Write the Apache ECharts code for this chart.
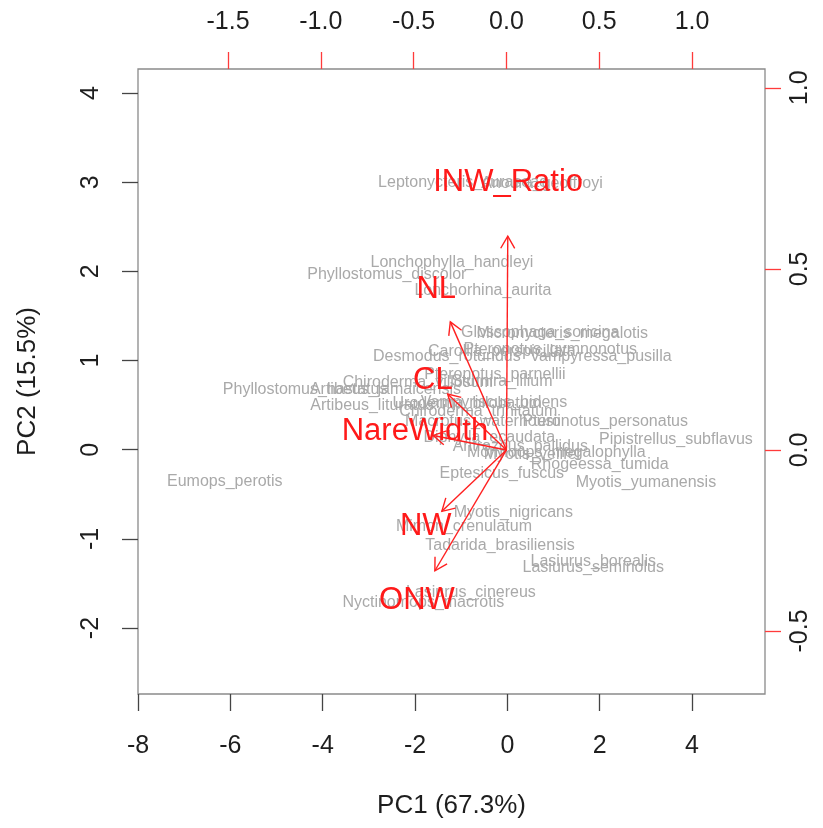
<!DOCTYPE html>
<html>
<head>
<meta charset="utf-8">
<script src="https://cdn.jsdelivr.net/npm/echarts@6/dist/echarts.min.js"></script>
<style>html,body{margin:0;padding:0;background:#fff}#c{width:823px;height:828px}</style>
</head>
<body>
<div id="c"></div>
<script>
// Species (observations) scores on PC1 / PC2
const speciesNames = [
  "Leptonycteris_curasoae","Anoura_geoffroyi","Lonchophylla_handleyi","Phyllostomus_discolor",
  "Lonchorhina_aurita","Glossophaga_soricina","Micronycteris_megalotis","Carollia_perspicillata",
  "Pteronotus_gymnonotus","Desmodus_rotundus","Vampyressa_pusilla","Pteronotus_parnellii",
  "Sturnira_lilium","Chiroderma_villosum","Phyllostomus_hastatus","Artibeus_jamaicensis",
  "Artibeus_lituratus","Uroderma_bilobatum","Vampyriscus_bidens","Chiroderma_trinitatum",
  "Macrotus_waterhousii","Pteronotus_personatus","Pipistrellus_subflavus","Diphylla_ecaudata",
  "Antrozous_pallidus","Mormoops_megalophylla","Myotis_velifer","Rhogeessa_tumida",
  "Eptesicus_fuscus","Myotis_yumanensis","Eumops_perotis","Myotis_nigricans",
  "Mimon_crenulatum","Tadarida_brasiliensis","Lasiurus_borealis","Lasiurus_seminolus",
  "Lasiurus_cinereus","Nyctinomops_macrotis"
];
const speciesPC1 = [
  -0.96, 0.75, -1.20, -2.61,
  -0.53, 0.71, 1.19, -0.12,
  0.93, -1.31, 2.02, -0.27,
  -0.12, -1.94, -4.38, -2.64,
  -2.93, -0.87, -0.29, -0.63,
  -0.53, 2.12, 3.65, -0.39,
  0.28, 1.06, 0.55, 2.00,
  -0.12, 3.00, -6.12, 0.13,
  -0.94, -0.16, 1.86, 1.86,
  -0.79, -1.82
];
const speciesPC2 = [
  3.00, 2.98, 2.10, 1.96,
  1.78, 1.31, 1.30, 1.10,
  1.12, 1.04, 1.04, 0.84,
  0.76, 0.75, 0.67, 0.67,
  0.49, 0.52, 0.53, 0.43,
  0.31, 0.31, 0.11, 0.14,
  0.03, -0.03, -0.05, -0.17,
  -0.27, -0.37, -0.36, -0.71,
  -0.86, -1.08, -1.25, -1.32,
  -1.60, -1.71
];
// Variable loadings (label positions, secondary axes)
const varNames = ["INW_Ratio","NL","CL","NareWidth","NW","ONW"];
const varLoad1 = [0.009, -0.378, -0.396, -0.493, -0.435, -0.482];
const varLoad2 = [0.738, 0.442, 0.193, 0.050, -0.212, -0.417];
// Tick values
const pc1Ticks = [-8,-6,-4,-2,0,2,4];
const pc2Ticks = [-2,-1,0,1,2,3,4];
const load1Ticks = [-1.5,-1.0,-0.5,0.0,0.5,1.0];
const load2Ticks = [-0.5,0.0,0.5,1.0];

const FONT = '"Liberation Sans", Arial, Helvetica, sans-serif';
const chart = echarts.init(document.getElementById('c'));

const speciesData = speciesNames.map((n,i)=>[speciesPC1[i], speciesPC2[i]]);
const varData = varNames.map((n,i)=>[varLoad1[i], varLoad2[i]]);

chart.setOption({
  animation:false,
  backgroundColor:'#fff',
  grid:{left:138, right:58, top:69, bottom:134, show:true, borderColor:'#8a8a8a', borderWidth:1.3, containLabel:false},
  xAxis:[
    {type:'value', position:'bottom', min:-8, max:5.58, splitLine:{show:false},
     axisLine:{show:false, onZero:false},
     axisTick:{show:true, inside:false, length:17, customValues:pc1Ticks, lineStyle:{color:'#444', width:1.3}},
     axisLabel:{customValues:pc1Ticks, fontSize:25, fontFamily:FONT, color:'#1e1e1e', margin:40},
     name:'PC1 (67.3%)', nameLocation:'middle', nameGap:99,
     nameTextStyle:{fontSize:26, fontFamily:FONT, color:'#1e1e1e'}},
    {type:'value', position:'top', min:-1.985, max:1.393, splitLine:{show:false},
     axisLine:{show:false, onZero:false},
     axisTick:{show:true, inside:false, length:17, customValues:load1Ticks, lineStyle:{color:'#ff3b3b', width:1.3}},
     axisLabel:{customValues:load1Ticks, fontSize:25, fontFamily:FONT, color:'#1e1e1e', margin:34,
       formatter:v=>v.toFixed(1)}}
  ],
  yAxis:[
    {type:'value', position:'left', min:-2.74, max:4.27, splitLine:{show:false},
     axisLine:{show:false, onZero:false},
     axisTick:{show:true, inside:false, length:16, customValues:pc2Ticks, lineStyle:{color:'#444', width:1.3}},
     axisLabel:{customValues:pc2Ticks, fontSize:25, fontFamily:FONT, color:'#1e1e1e', margin:34, rotate:90},
     name:'PC2 (15.5%)', nameLocation:'middle', nameGap:97,
     nameTextStyle:{fontSize:26, fontFamily:FONT, color:'#1e1e1e'}},
    {type:'value', position:'right', min:-0.674, max:1.052, splitLine:{show:false},
     axisLine:{show:false, onZero:false},
     axisTick:{show:true, inside:false, length:16, customValues:load2Ticks, lineStyle:{color:'#ff3b3b', width:1.3}},
     axisLabel:{customValues:load2Ticks, fontSize:25, fontFamily:FONT, color:'#1e1e1e', margin:23, rotate:90,
       formatter:v=>v.toFixed(1)}}
  ],
  series:[
    {type:'custom', xAxisIndex:0, yAxisIndex:0, data:speciesData, z:2,
     renderItem:(params, api)=>{
       const p = api.coord([api.value(0), api.value(1)]);
       return {type:'text', x:p[0], y:p[1], style:{text:speciesNames[params.dataIndex], fill:'#a9a9a9',
         fontSize:16, fontFamily:FONT, align:'center', verticalAlign:'middle'}};
     }},
    {type:'custom', xAxisIndex:1, yAxisIndex:1, data:varData, z:3,
     renderItem:(params, api)=>{
       const o = api.coord([0,0]);
       const t = api.coord([api.value(0)*0.8, api.value(1)*0.8]);
       const ang = Math.atan2(t[1]-o[1], t[0]-o[0]);
       const L = 14, a = Math.PI/6;
       const h1 = [t[0]-L*Math.cos(ang-a), t[1]-L*Math.sin(ang-a)];
       const h2 = [t[0]-L*Math.cos(ang+a), t[1]-L*Math.sin(ang+a)];
       const st = {stroke:'#ff2020', lineWidth:1.4, fill:null};
       return {type:'group', children:[
         {type:'line', shape:{x1:o[0], y1:o[1], x2:t[0], y2:t[1]}, style:st},
         {type:'polyline', shape:{points:[h1, t, h2]}, style:st}
       ]};
     }},
    {type:'custom', xAxisIndex:1, yAxisIndex:1, data:varData, z:4,
     renderItem:(params, api)=>{
       const p = api.coord([api.value(0), api.value(1)]);
       return {type:'text', x:p[0], y:p[1], style:{text:varNames[params.dataIndex], fill:'#ff1a1a',
         fontSize:31, fontFamily:FONT, align:'center', verticalAlign:'middle'}};
     }}
  ]
});
</script>
</body>
</html>
